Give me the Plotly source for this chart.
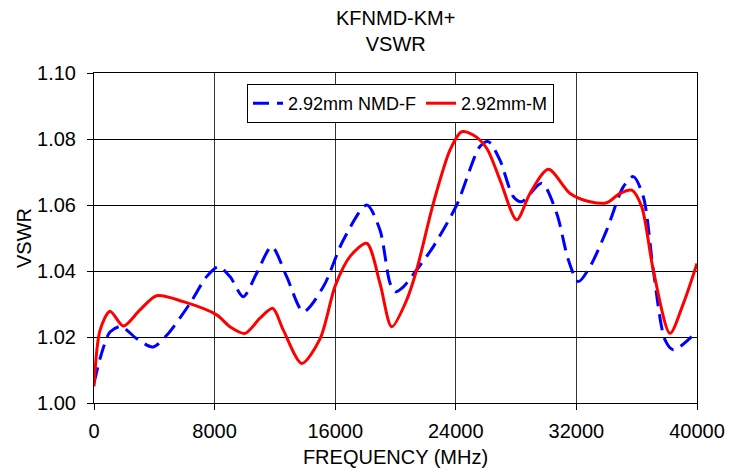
import plotly.graph_objects as go

# NMD-F (blue dashed)
f_blue = [0, 500, 1060, 1800, 2800, 3900, 4820, 6370, 7470, 8250, 9020, 9900, 10790, 11790, 12780,
          13890, 15210, 16540, 18090, 18970, 19640, 20000, 20520, 21400, 22510, 24060, 25600, 26160,
          26930, 27820, 28370, 29700, 30690, 31470, 32130, 32900, 34010, 35110, 35780, 36440, 37100,
          37880, 38430, 39650]
v_blue = [1.0060, 1.0150, 1.0215, 1.0232, 1.0196, 1.0170, 1.0205, 1.0302, 1.0383, 1.0413, 1.0383,
          1.0322, 1.0393, 1.0474, 1.0383, 1.0277, 1.0352, 1.0494, 1.0600, 1.0524, 1.0363, 1.0337,
          1.0352, 1.0403, 1.0474, 1.0600, 1.0777, 1.0792, 1.0736, 1.0625, 1.0610, 1.0666, 1.0575,
          1.0433, 1.0368, 1.0413, 1.0524, 1.0655, 1.0686, 1.0625, 1.0403, 1.0191, 1.0161, 1.0201]

# M (red solid)
f_red = [0, 400, 1060, 1950, 3050, 4160, 5930, 8140, 9020, 10020, 11010, 11850, 12560, 13780, 15000,
         16000, 17000, 18090, 18970, 19750, 20740, 21400, 22510, 23620, 24390, 25160, 26050, 26930, 28040,
         28920, 30140, 31580, 32900, 34010, 34890, 35670, 36330, 37100, 38210, 39100, 40000]
v_red = [1.0050, 1.0220, 1.0278, 1.0233, 1.0282, 1.0325, 1.0307, 1.0267, 1.0231, 1.0211, 1.0257,
         1.0287, 1.0221, 1.0120, 1.0195, 1.0355, 1.0445, 1.0484, 1.0363, 1.0231, 1.0312, 1.0403, 1.0605,
         1.0767, 1.0822, 1.0812, 1.0772, 1.0676, 1.0555, 1.0635, 1.0708, 1.0635, 1.0610, 1.0607,
         1.0635, 1.0645, 1.0595, 1.0403, 1.0211, 1.0302, 1.0423]

x_ticks = [0, 8000, 16000, 24000, 32000, 40000]
y_ticks = [1.00, 1.02, 1.04, 1.06, 1.08, 1.10]

FONT = "Liberation Sans, Arial, sans-serif"

fig = go.Figure()
fig.add_trace(go.Scatter(x=f_blue, y=v_blue, mode="lines", name="2.92mm NMD-F",
                         line=dict(color="#0000FF", width=3, dash="16px,8px", shape="spline", smoothing=0.8)))
fig.add_trace(go.Scatter(x=f_red, y=v_red, mode="lines", name="2.92mm-M",
                         line=dict(color="#FF0000", width=3, shape="spline", smoothing=0.8)))

fig.update_layout(
    width=735, height=468,
    margin=dict(l=86, r=46, t=65, b=73),
    paper_bgcolor="white", plot_bgcolor="white",
    font=dict(family=FONT, size=20, color="black"),
    showlegend=True,
    legend=dict(orientation="h", x=(247 - 94) / 603, y=(403 - 84) / 330, xanchor="left", yanchor="top",
                bgcolor="white", bordercolor="black", borderwidth=1,
                font=dict(family=FONT, size=18, color="black"),
                itemwidth=30, tracegroupgap=0),
    annotations=[dict(text="KFNMD-KM+<br>VSWR", x=0.5, xref="paper", xanchor="center",
                      y=1, yref="paper", yanchor="bottom", yshift=16, showarrow=False,
                      font=dict(family=FONT, size=20, color="black"))],
)
fig.update_xaxes(range=[0, 40000], tickvals=x_ticks, ticktext=[str(t) for t in x_ticks],
                 showgrid=True, gridcolor="#333333", gridwidth=1,
                 showline=True, linecolor="black", linewidth=1, mirror=True,
                 ticks="outside", ticklen=6, tickcolor="black", ticklabelstandoff=4,
                 tickfont=dict(family=FONT, size=20), zeroline=False,
                 title=dict(text="FREQUENCY (MHz)", font=dict(family=FONT, size=20), standoff=8))
fig.update_yaxes(range=[1.00, 1.10], tickvals=y_ticks, ticktext=[f"{t:.2f}" for t in y_ticks],
                 showgrid=True, gridcolor="black", gridwidth=1,
                 showline=True, linecolor="black", linewidth=1, mirror=True,
                 ticks="outside", ticklen=6, tickcolor="black", ticklabelstandoff=7,
                 tickfont=dict(family=FONT, size=20), zeroline=False,
                 title=dict(text="VSWR", font=dict(family=FONT, size=20), standoff=0))

fig.write_html("out.html")
